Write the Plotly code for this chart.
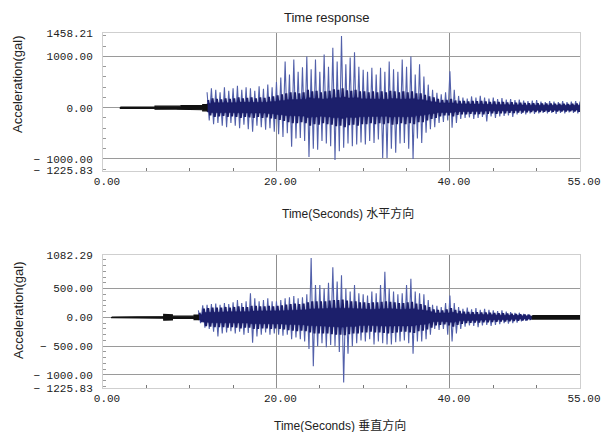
import plotly.graph_objects as go

# ---------------- data (0.5 s bins) ----------------
time_s = [i * 0.5 for i in range(111)]  # 0.0 ... 55.0 s

N = None
h_up = [N, N, N, N, 12, 10, 12, 10, 12, 10,
        12, 10, 30, 25, 35, 30, 25, 30, 40, 35,
        30, 35, 40, 60, 300, 380, 350, 300, 400, 330,
        380, 430, 350, 400, 380, 330, 420, 370, 450, 400,
        500, 590, 900, 650, 940, 700, 790, 1000, 750, 940,
        700, 1040, 800, 1170, 900, 1400, 850, 980, 1080, 800,
        740, 700, 780, 650, 780, 700, 900, 750, 700, 940,
        800, 1000, 650, 850, 610, 450, 350, 290, 260, 300,
        710, 350, 230, 200, 180, 220, 200, 230, 200, 180,
        200, 170, 190, 160, 170, 150, 160, 140, 130, 140,
        150, 120, 110, 130, 120, 110, 130, 110, 120, 130,
        120]
h_dn = [N, N, N, N, -12, -10, -12, -10, -12, -10,
        -12, -10, -30, -25, -35, -30, -25, -30, -40, -35,
        -30, -35, -40, -60, -250, -320, -300, -350, -380, -300,
        -350, -400, -330, -420, -470, -350, -380, -430, -400, -470,
        -520, -570, -500, -760, -600, -590, -650, -960, -800, -820,
        -650, -700, -750, -1020, -850, -780, -700, -750, -720, -680,
        -720, -650, -690, -620, -980, -980, -800, -880, -700, -690,
        -800, -1000, -600, -690, -490, -420, -380, -300, -280, -250,
        -390, -300, -220, -200, -190, -220, -200, -180, -270, -170,
        -200, -170, -160, -150, -180, -130, -120, -130, -110, -120,
        -110, -100, -110, -100, -120, -100, -110, -90, -100, -110,
        -120]
h_body = [N, N, N, N, 8, 8, 8, 8, 8, 8,
          8, 8, 20, 18, 25, 22, 18, 22, 30, 25,
          22, 25, 30, 45, 150, 180, 170, 160, 180, 170,
          180, 200, 180, 190, 200, 180, 200, 190, 210, 220,
          240, 260, 280, 300, 300, 280, 300, 350, 320, 330,
          300, 320, 330, 360, 350, 380, 340, 330, 350, 320,
          320, 300, 320, 300, 320, 300, 330, 320, 300, 320,
          300, 320, 280, 280, 250, 220, 200, 170, 150, 150,
          170, 140, 130, 130, 120, 130, 125, 130, 120, 110,
          120, 110, 110, 100, 105, 95, 95, 90, 85, 85,
          85, 80, 80, 80, 75, 75, 75, 70, 75, 80,
          85]

v_up = [N, N, 5, 5, 5, 5, 5, 5, 5, 5,
        5, 5, 8, 15, 50, 45, 20, 20, 20, 20,
        20, 40, 120, 210, 220, 230, 240, 220, 250, 230,
        260, 300, 250, 280, 420, 330, 280, 300, 330, 280,
        280, 300, 330, 350, 370, 330, 350, 400, 1030, 560,
        560, 500, 600, 870, 620, 730, 500, 450, 560, 420,
        400, 380, 450, 420, 560, 790, 500, 450, 400, 420,
        560, 670, 450, 420, 400, 300, 220, 200, 180, 250,
        380, 250, 180, 150, 170, 140, 160, 130, 150, 130,
        120, 110, 120, 100, 90, 80, 80, 60, 50, 30,
        30, 30, 30, 30, 30, 30, 30, 30, 30, 30,
        30]
v_dn = [N, N, -5, -5, -5, -5, -5, -5, -5, -5,
        -5, -5, -8, -15, -50, -45, -20, -20, -20, -20,
        -20, -40, -100, -180, -200, -250, -330, -280, -260, -240,
        -280, -250, -300, -270, -440, -330, -300, -260, -300, -280,
        -300, -320, -300, -380, -350, -380, -420, -550, -850, -500,
        -450, -520, -480, -500, -600, -1130, -630, -500, -450, -400,
        -420, -380, -470, -420, -450, -470, -470, -430, -420, -400,
        -450, -630, -420, -420, -380, -300, -200, -220, -200, -300,
        -420, -280, -200, -160, -140, -150, -170, -140, -130, -150,
        -130, -120, -100, -110, -100, -90, -70, -60, -50, -30,
        -30, -30, -30, -30, -30, -30, -30, -30, -30, -30,
        -30]
v_body = [N, N, 4, 4, 4, 4, 4, 4, 4, 4,
          4, 4, 6, 12, 40, 35, 15, 15, 15, 15,
          15, 30, 80, 150, 160, 170, 170, 170, 180, 170,
          180, 190, 180, 180, 200, 200, 190, 190, 200, 190,
          200, 210, 220, 230, 240, 230, 240, 260, 280, 280,
          280, 280, 290, 300, 300, 310, 290, 280, 280, 260,
          260, 250, 260, 260, 270, 280, 270, 260, 250, 250,
          260, 270, 240, 230, 210, 180, 140, 130, 120, 140,
          160, 130, 110, 100, 95, 90, 90, 85, 85, 80,
          75, 70, 70, 65, 60, 55, 50, 45, 40, 25,
          22, 22, 22, 22, 22, 22, 22, 22, 22, 22,
          22]

h_ticks = [1458.21, 1000.0, 0.0, -1000.0, -1225.83]
v_ticks = [1082.29, 500.0, 0.0, -500.0, -1000.0, -1225.83]
x_ticks = [0.0, 20.0, 40.0, 55.0]
x_minor = [5, 10, 15, 25, 30, 35, 45, 50]

PEAK = "#5260aa"
BODY = "#1c1f6b"
QUIET = "#111111"


def zigzag(t, a, b, lo, hi, off=0.0):
    xs, ys = [], []
    for ti, ai, bi in zip(t, a, b):
        if ai is None or ti < lo or ti > hi:
            continue
        xs += [ti + off, ti + off + 0.25]
        ys += [ai, bi]
    return xs, ys


def band(t, a, b, lo, hi):
    tx, ty, by = [], [], []
    for ti, ai, bi in zip(t, a, b):
        if ai is None or ti < lo or ti > hi:
            continue
        tx += [ti, ti + 0.5]
        ty += [ai, ai]
        by += [bi, bi]
    xs = tx + tx[::-1]
    ys = ty + by[::-1]
    return xs + xs[:1], ys + ys[:1]


def add_series(fig, up, dn, body, quiet_end, tail_start, xa, ya):
    x, y = zigzag(time_s, up, dn, quiet_end, tail_start)
    fig.add_trace(go.Scatter(x=x, y=y, mode="lines", line=dict(color=PEAK, width=1.1),
                             xaxis=xa, yaxis=ya, hoverinfo="skip"))
    neg = [None if v is None else -v for v in body]
    x, y = zigzag(time_s, body, neg, quiet_end, tail_start, off=0.125)
    fig.add_trace(go.Scatter(x=x, y=y, mode="lines", line=dict(color=BODY, width=2.2),
                             xaxis=xa, yaxis=ya, hoverinfo="skip"))
    half = [None if v is None else v * 0.55 for v in body]
    neg_half = [None if v is None else -v for v in half]
    x, y = band(time_s, half, neg_half, quiet_end, tail_start)
    fig.add_trace(go.Scatter(x=x, y=y, mode="lines", fill="toself", fillcolor=BODY,
                             line=dict(color=BODY, width=0.5),
                             xaxis=xa, yaxis=ya, hoverinfo="skip"))
    for lo, hi in [(0, quiet_end - 0.5), (tail_start + 0.5, 55)]:
        x, y = band(time_s, up, dn, lo, hi)
        if len(x) > 1:
            fig.add_trace(go.Scatter(x=x, y=y, mode="lines", fill="toself", fillcolor=QUIET,
                                     line=dict(color=QUIET, width=1.2),
                                     xaxis=xa, yaxis=ya, hoverinfo="skip"))


fig = go.Figure()
add_series(fig, h_up, h_dn, h_body, 12.0, 55.0, "x", "y")
add_series(fig, v_up, v_dn, v_body, 11.0, 49.0, "x2", "y2")


def fmt(v):
    s = f"{abs(v):.2f}"
    return ("\u2212 " + s) if v < 0 else s


W, H = 607, 432
xdom = [103 / W, 580 / W]
ydom1 = [1 - 170.5 / H, 1 - 33 / H]
ydom2 = [1 - 388 / H, 1 - 255 / H]

tickfont = dict(family="Liberation Mono, DejaVu Sans Mono", size=11, color="#222222")
common_x = dict(range=[0, 55], tickvals=x_ticks, ticktext=[f"{v:.2f}" for v in x_ticks],
                showgrid=True, gridcolor="#8f8f8f", gridwidth=1, zeroline=False,
                showline=True, linecolor="#cfcfcf", mirror=True, ticks="", tickfont=tickfont,
                ticklabelshift=4, automargin=False,
                minor=dict(tickvals=x_minor, ticks="inside", ticklen=3, tickcolor="#777777",
                           showgrid=False))
common_y = dict(showgrid=True, gridcolor="#9a9a9a", gridwidth=1, zeroline=False,
                showline=True, linecolor="#cfcfcf", mirror=True, ticks="", tickfont=tickfont,
                ticklabelstandoff=7, automargin=False)

fig.update_layout(
    width=W, height=H, margin=dict(l=0, r=0, t=0, b=0),
    paper_bgcolor="white", plot_bgcolor="white", showlegend=False,
    xaxis=dict(domain=xdom, anchor="y", **common_x),
    yaxis=dict(domain=ydom1, anchor="x", range=[-1225.83, 1458.21], tickvals=h_ticks,
               ticktext=[fmt(v) for v in h_ticks],
               minor=dict(dtick=200, ticks="inside", ticklen=3, tickcolor="#999999", showgrid=False),
               **common_y),
    xaxis2=dict(domain=xdom, anchor="y2", **common_x),
    yaxis2=dict(domain=ydom2, anchor="x2", range=[-1225.83, 1082.29], tickvals=v_ticks,
                ticktext=[fmt(v) for v in v_ticks],
                minor=dict(dtick=100, ticks="inside", ticklen=3, tickcolor="#999999", showgrid=False),
                **common_y),
)

tfont = dict(family="Liberation Sans, Noto Sans CJK SC", size=12, color="#222222")


def ann(text, px, py, angle=0, size=12):
    fig.add_annotation(text=text, x=px / W, y=1 - py / H, xref="paper", yref="paper",
                       showarrow=False, textangle=angle, xanchor="center", yanchor="middle",
                       font=dict(tfont, size=size))


ann("Time response", 327, 17, size=13)
ann("Time(Seconds) 水平方向", 348, 213)
ann("Time(Seconds) 垂直方向", 340, 425)
ann("Acceleration(gal)", 18, 84, angle=-90, size=13)
ann("Acceleration(gal)", 18, 310, angle=-90, size=13)

fig.write_html("out.html")
